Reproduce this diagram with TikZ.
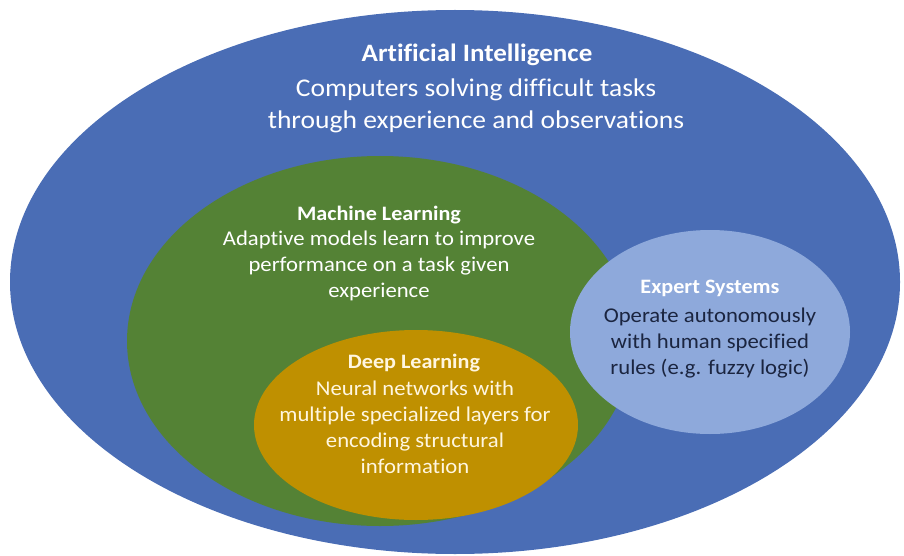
\documentclass[tikz,border=0pt]{standalone}
\usepackage{fontspec}
\setmainfont{Carlito}[FakeStretch=1.08, Ligatures=NoCommon]
\usetikzlibrary{shapes.geometric}
\definecolor{aiblue}{HTML}{4A6DB5}
\definecolor{mlgreen}{HTML}{548235}
\definecolor{dlgold}{HTML}{BF9000}
\definecolor{eslight}{HTML}{8EA9DB}
\definecolor{esdark}{HTML}{1B2540}
\definecolor{dltext}{HTML}{FFF6E0}
\tikzset{
  blob/.style={ellipse, inner sep=0pt, draw=none},
  bigtxt/.style={align=center, text=white, anchor=base, font=\fontsize{25.5}{32}\selectfont},
  bigtitle/.style={align=center, text=white, anchor=base, font=\fontsize{25}{32}\selectfont\bfseries},
  smalltxt/.style={align=center, anchor=base, font=\fontsize{21}{26}\selectfont},
  smalltitle/.style={align=center, anchor=base, font=\fontsize{20.5}{26}\selectfont\bfseries},
}
\begin{document}
\begin{tikzpicture}[x=1pt,y=-1pt]
\useasboundingbox (0,0) rectangle (904,556);
\node[blob, fill=aiblue, minimum width=890pt, minimum height=544pt] (ai) at (455,282) {};
\node[blob, fill=mlgreen, minimum width=506pt, minimum height=370pt] (ml) at (380,341) {};
\node[blob, fill=dlgold, minimum width=324pt, minimum height=190pt] (dl) at (416,425) {};
\node[blob, fill=eslight, minimum width=280pt, minimum height=204pt] (es) at (710,332) {};
\node[bigtitle] (aititle) at (477,62) {Artificial Intelligence};
\node[bigtxt] (aibody) at (476,129) {Computers solving difficult tasks\\through experience and observations};
\node[smalltitle, text=white] (mltitle) at (379,220) {Machine Learning};
\node[smalltxt, text=white] (mlbody) at (379,297) {Adaptive models learn to improve\\performance on a task given\\experience};
\node[smalltitle, text=dltext] (dltitle) at (414,368) {Deep Learning};
\node[smalltxt, text=dltext] (dlbody) at (415,473) {Neural networks with\\multiple specialized layers for\\encoding structural\\information};
\node[smalltitle, text=white] (estitle) at (710,293) {Expert Systems};
\node[smalltxt, text=esdark] (esbody) at (710,374) {Operate autonomously\\with human specified\\rules (e.g. fuzzy logic)};
\end{tikzpicture}
\end{document}
